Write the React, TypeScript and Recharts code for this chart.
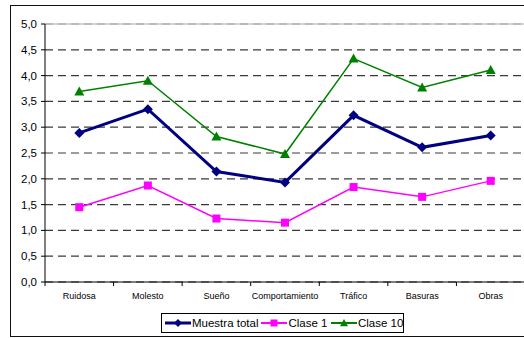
import { LineChart, Line, XAxis, YAxis, CartesianGrid, ReferenceLine } from "recharts"

const categories = ["Ruidosa", "Molesto", "Sueño", "Comportamiento", "Tráfico", "Basuras", "Obras"]
const muestraTotal = [2.89, 3.35, 2.14, 1.93, 3.23, 2.61, 2.84]
const clase1 = [1.45, 1.87, 1.23, 1.15, 1.84, 1.65, 1.96]
const clase10 = [3.69, 3.9, 2.82, 2.48, 4.33, 3.77, 4.11]
const yTicks = [0, 0.5, 1, 1.5, 2, 2.5, 3, 3.5, 4, 4.5, 5]

const data = categories.map((cat, i) => ({
  cat,
  total: muestraTotal[i],
  c1: clase1[i],
  c10: clase10[i],
}))

const FONT = '"Liberation Sans", Arial, sans-serif'
const NAVY = "#000080"
const MAGENTA = "#ff00ff"
const GREEN = "#008000"

// plot area geometry
const CHART_W = 560
const CHART_H = 338
const Y_AXIS_W = 45
const MARGIN_RIGHT = 35
const PLOT_W = CHART_W - Y_AXIS_W - MARGIN_RIGHT
const BAND = PLOT_W / categories.length

const Diamond = ({ cx, cy, fill, r = 5 }: any) => (
  <path d={`M${cx},${cy - r}L${cx + r},${cy}L${cx},${cy + r}L${cx - r},${cy}Z`} fill={fill} />
)
const Square = ({ cx, cy, fill, r = 4 }: any) => (
  <rect x={cx - r} y={cy - r} width={r * 2} height={r * 2} fill={fill} />
)
const Triangle = ({ cx, cy, fill, r = 5 }: any) => (
  <path d={`M${cx},${cy - r}L${cx + r},${cy + r * 0.8}L${cx - r},${cy + r * 0.8}Z`} fill={fill} />
)

// category label centred in its band, tick mark on the band boundary
const CatTick = ({ x, y, payload, index }: any) => (
  <g>
    {index === 0 && <line x1={x - BAND / 2} y1={y} x2={x - BAND / 2} y2={y + 4} stroke="#000" />}
    <line x1={x + BAND / 2} y1={y} x2={x + BAND / 2} y2={y + 4} stroke="#000" />
    <text x={x} y={y + 17} textAnchor="middle" fontSize={9} fontFamily={FONT} fill="#000">
      {payload.value}
    </text>
  </g>
)

const LegendItem = ({ color, label, marker, width }: any) => (
  <div style={{ display: "flex", alignItems: "center", width }}>
    <svg width={26} height={12} style={{ flex: "none" }}>
      <line x1={0} y1={6} x2={26} y2={6} stroke={color} strokeWidth={color === NAVY ? 3 : 2} />
      {marker === "diamond" && <Diamond cx={13} cy={6} fill={color} r={4} />}
      {marker === "square" && <Square cx={13} cy={6} fill={color} r={3.5} />}
      {marker === "triangle" && <Triangle cx={13} cy={6} fill={color} r={4} />}
    </svg>
    <span style={{ marginLeft: 1, whiteSpace: "nowrap" }}>{label}</span>
  </div>
)

export default function App() {
  return (
    <div
      style={{
        position: "fixed",
        left: 0,
        top: 0,
        width: 524,
        height: 338,
        overflow: "hidden",
        background: "#fff",
        fontFamily: FONT,
      }}
    >
      <div
        style={{
          position: "absolute",
          left: 10,
          top: 5,
          width: 560,
          height: 330,
          border: "1.5px solid #111",
        }}
      />
      <div style={{ position: "absolute", left: 0, top: 0 }}>
        <LineChart width={CHART_W} height={CHART_H} data={data} margin={{ top: 24, right: MARGIN_RIGHT, left: 0, bottom: 0 }}>
          <CartesianGrid vertical={false} stroke="#3a3a3a" strokeWidth={1.2} strokeDasharray="8 5" />
          <ReferenceLine y={5} stroke="#c4c4c4" strokeWidth={1.5} />
          <XAxis
            dataKey="cat"
            height={56}
            padding={{ left: BAND / 2, right: BAND / 2 }}
            axisLine={{ stroke: "#000" }}
            tickLine={false}
            tickSize={0}
            tickMargin={0}
            interval={0}
            tick={<CatTick />}
          />
          <YAxis
            width={Y_AXIS_W}
            domain={[0, 5]}
            ticks={yTicks}
            interval={0}
            axisLine={{ stroke: "#000" }}
            tickLine={{ stroke: "#000" }}
            tickSize={4}
            tickMargin={4}
            tick={{ fill: "#000", fontSize: 11.5, fontFamily: FONT }}
            tickFormatter={(v: number) => v.toFixed(1).replace(".", ",")}
          />
          <Line
            dataKey="c10"
            stroke={GREEN}
            strokeWidth={1.5}
            isAnimationActive={false}
            dot={(p: any) => <Triangle key={`t${p.index}`} cx={p.cx} cy={p.cy} fill={GREEN} />}
          />
          <Line
            dataKey="c1"
            stroke={MAGENTA}
            strokeWidth={1.5}
            isAnimationActive={false}
            dot={(p: any) => <Square key={`s${p.index}`} cx={p.cx} cy={p.cy} fill={MAGENTA} />}
          />
          <Line
            dataKey="total"
            stroke={NAVY}
            strokeWidth={3}
            isAnimationActive={false}
            dot={(p: any) => <Diamond key={`d${p.index}`} cx={p.cx} cy={p.cy} fill={NAVY} />}
          />
        </LineChart>
      </div>
      <div
        style={{
          position: "absolute",
          left: 161,
          top: 313,
          width: 243,
          height: 20,
          border: "1px solid #000",
          display: "flex",
          alignItems: "center",
          paddingLeft: 3,
          boxSizing: "border-box",
          fontSize: 11.5,
          color: "#000",
        }}
      >
        <LegendItem color={NAVY} label="Muestra total" marker="diamond" width={97} />
        <LegendItem color={MAGENTA} label="Clase 1" marker="square" width={70} />
        <LegendItem color={GREEN} label="Clase 10" marker="triangle" width={72} />
      </div>
    </div>
  )
}
